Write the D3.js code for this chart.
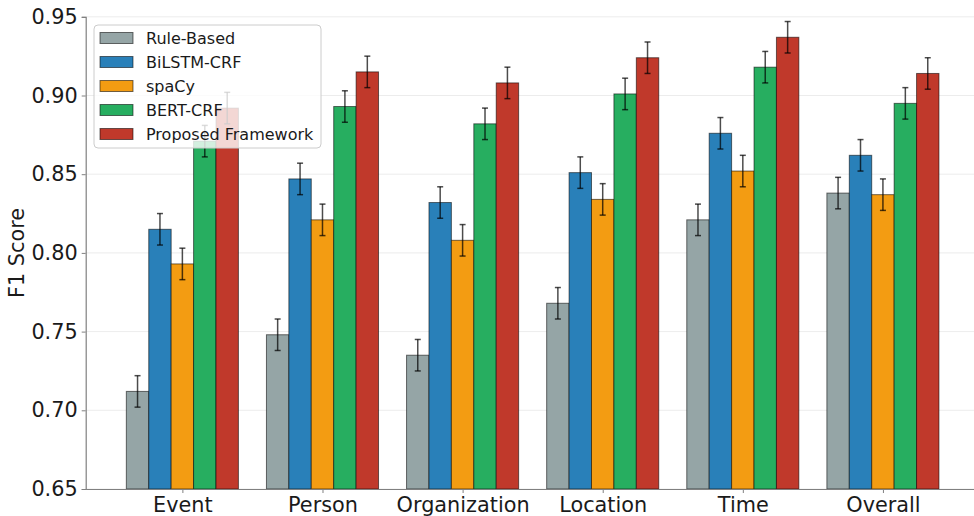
<!DOCTYPE html>
<html>
<head>
<meta charset="utf-8">
<script src="https://cdn.jsdelivr.net/npm/d3@7"></script>
<style>
  html, body { margin: 0; padding: 0; background: #fff; }
  svg { display: block; font-family: "DejaVu Sans", sans-serif; }
</style>
</head>
<body>
<svg id="chart" width="974" height="516"></svg>
<script>
// Entity categories on the x axis
const categories = ["Event", "Person", "Organization", "Location", "Time", "Overall"];

// Methods compared, with their bar colours
const methods = ["Rule-Based", "BiLSTM-CRF", "spaCy", "BERT-CRF", "Proposed Framework"];
const colors = ["#95a5a6", "#2980b9", "#f39c12", "#27ae60", "#c0392b"];

// F1 scores per method, one value per category
const ruleBased = [0.712, 0.748, 0.735, 0.768, 0.821, 0.838];
const bilstmCrf = [0.815, 0.847, 0.832, 0.851, 0.876, 0.862];
const spacy     = [0.793, 0.821, 0.808, 0.834, 0.852, 0.837];
const bertCrf   = [0.871, 0.893, 0.882, 0.901, 0.918, 0.895];
const proposed  = [0.892, 0.915, 0.908, 0.924, 0.937, 0.914];

// Standard deviation shown as error bars
const errRule     = [0.01, 0.01, 0.01, 0.01, 0.01, 0.01];
const errBilstm   = [0.01, 0.01, 0.01, 0.01, 0.01, 0.01];
const errSpacy    = [0.01, 0.01, 0.01, 0.01, 0.01, 0.01];
const errBert     = [0.01, 0.01, 0.01, 0.01, 0.01, 0.01];
const errProposed = [0.01, 0.01, 0.01, 0.01, 0.01, 0.01];

// Y axis ticks
const yTicks = [0.65, 0.70, 0.75, 0.80, 0.85, 0.90, 0.95];

const seriesValues = [ruleBased, bilstmCrf, spacy, bertCrf, proposed];
const seriesErrors = [errRule, errBilstm, errSpacy, errBert, errProposed];

const svg = d3.select("#chart");

const plot = { left: 85.7, right: 979.6, top: 16.8, bottom: 489 };
const barWidthUnits = 0.16;
const labelSize = 20.8;

const x = d3.scaleLinear().domain([-0.69, categories.length - 1 + 0.69]).range([plot.left, plot.right]);
const y = d3.scaleLinear().domain([0.65, 0.95]).range([plot.bottom, plot.top]);

// Horizontal grid
svg.append("g")
  .selectAll("line")
  .data(yTicks)
  .join("line")
  .attr("x1", plot.left).attr("x2", plot.right)
  .attr("y1", d => y(d)).attr("y2", d => y(d))
  .attr("stroke", "#b0b0b0").attr("stroke-opacity", 0.3).attr("stroke-width", 0.8);

// Bars
const flat = [];
seriesValues.forEach((vals, s) => {
  vals.forEach((v, i) => {
    flat.push({ s, i, v, e: seriesErrors[s][i] });
  });
});

const xb = d => x(d.i + (d.s - 2) * barWidthUnits);
const bw = x(barWidthUnits) - x(0);

svg.append("g")
  .selectAll("rect")
  .data(flat)
  .join("rect")
  .attr("x", d => xb(d) - bw / 2)
  .attr("width", bw)
  .attr("y", d => y(d.v))
  .attr("height", d => y(0.65) - y(d.v))
  .attr("fill", d => colors[d.s])
  .attr("stroke", "rgba(0,0,0,0.55)")
  .attr("stroke-width", 1);

// Error bars
const eb = svg.append("g").attr("stroke", "rgba(0,0,0,0.7)").attr("stroke-width", 1.5);
flat.forEach(d => {
  const cx = xb(d);
  eb.append("line").attr("x1", cx).attr("x2", cx).attr("y1", y(d.v - d.e)).attr("y2", y(d.v + d.e));
  eb.append("line").attr("x1", cx - 3).attr("x2", cx + 3).attr("y1", y(d.v - d.e)).attr("y2", y(d.v - d.e));
  eb.append("line").attr("x1", cx - 3).attr("x2", cx + 3).attr("y1", y(d.v + d.e)).attr("y2", y(d.v + d.e));
});

// Y axis
const yAxis = svg.append("g")
  .attr("transform", `translate(${plot.left},0)`)
  .call(d3.axisLeft(y).tickValues(yTicks).tickFormat(d3.format(".2f")).tickSize(4).tickPadding(4));
yAxis.select(".domain").attr("stroke", "#808080").attr("stroke-width", 1.2);
yAxis.selectAll(".tick line").attr("stroke", "#808080");
yAxis.selectAll("text").attr("font-size", labelSize).attr("fill", "#1a1a1a").attr("font-family", "DejaVu Sans");

// X axis
const xAxis = svg.append("g")
  .attr("transform", `translate(0,${plot.bottom})`)
  .call(d3.axisBottom(x).tickValues(d3.range(categories.length)).tickFormat(i => categories[i]).tickSize(4).tickPadding(4).tickSizeOuter(0));
xAxis.select(".domain").attr("stroke", "#808080").attr("stroke-width", 1.2);
xAxis.selectAll(".tick line").attr("stroke", "#808080");
xAxis.selectAll("text").attr("font-size", labelSize).attr("fill", "#1a1a1a").attr("font-family", "DejaVu Sans");

// Y axis title
svg.append("text")
  .attr("transform", `translate(24,${(plot.top + plot.bottom) / 2}) rotate(-90)`)
  .attr("text-anchor", "middle")
  .attr("font-size", labelSize)
  .attr("fill", "#1a1a1a")
  .text("F1 Score");

// Legend
const legend = svg.append("g").attr("transform", "translate(94,25)");
legend.append("rect")
  .attr("width", 227).attr("height", 123).attr("rx", 4)
  .attr("fill", "rgba(255,255,255,0.8)")
  .attr("stroke", "#cccccc").attr("stroke-width", 1);
methods.forEach((m, k) => {
  const row = legend.append("g").attr("transform", `translate(0,${13 + k * 24})`);
  row.append("rect")
    .attr("x", 6).attr("y", -5.5).attr("width", 33).attr("height", 11)
    .attr("fill", colors[k]).attr("stroke", "rgba(0,0,0,0.55)").attr("stroke-width", 1);
  row.append("text")
    .attr("x", 52).attr("y", 0).attr("dy", "0.35em")
    .attr("font-size", 16).attr("fill", "#1a1a1a")
    .text(m);
});
</script>
</body>
</html>
